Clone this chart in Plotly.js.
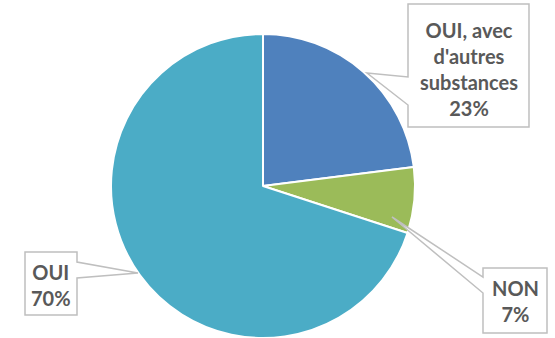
<!DOCTYPE html>
<html>
<head>
<meta charset="utf-8">
<script src="https://cdn.plot.ly/plotly-3.0.1.min.js"></script>
<style>html,body{margin:0;padding:0;background:#fff;}#chart{width:555px;height:338px;}</style>
</head>
<body>
<div id="chart"></div>
<script>
// Data
var categories = ["OUI, avec d'autres substances", "NON", "OUI"];
var values = [23, 7, 70];
var labelTexts = ["OUI, avec<br>d'autres<br>substances<br>23%", "NON<br>7%", "OUI<br>70%"];
var colors = ["#4F81BD", "#9BBB59", "#4BACC6"];

var W = 555, H = 338;
function px(x) { return x / W; }
function py(y) { return 1 - y / H; }

// Callout geometry (pixels): box and pointer
var callouts = [
  {box: [408, 4, 529, 127], side: "left", base: [77, 105], tip: [367, 73], text: [468.5, 69]},
  {box: [483, 268, 547, 333], side: "left", base: [277, 293], tip: [392, 217], text: [515, 301]},
  {box: [25, 252, 77, 315], side: "right", base: [262, 278], tip: [138, 273], text: [51, 285]}
];

function calloutPath(c) {
  var x0 = c.box[0], y0 = c.box[1], x1 = c.box[2], y1 = c.box[3];
  var pts;
  if (c.side === "left") {
    pts = [[x0, y0], [x1, y0], [x1, y1], [x0, y1], [x0, c.base[1]], c.tip, [x0, c.base[0]]];
  } else {
    pts = [[x0, y0], [x1, y0], [x1, c.base[0]], c.tip, [x1, c.base[1]], [x1, y1], [x0, y1]];
  }
  return pts.map(function (p, i) { return (i ? "L" : "M") + px(p[0]).toFixed(5) + "," + py(p[1]).toFixed(5); }).join(" ") + " Z";
}

var shapes = callouts.map(function (c) {
  return {type: "path", xref: "paper", yref: "paper", path: calloutPath(c),
    fillcolor: "#FFFFFF", line: {color: "#BFBFBF", width: 1.5}, layer: "above"};
});

var annotations = callouts.map(function (c, i) {
  return {xref: "paper", yref: "paper", x: px(c.text[0]), y: py(c.text[1]),
    xanchor: "center", yanchor: "middle", showarrow: false, align: "center",
    text: "<b>" + labelTexts[i] + "</b>",
    font: {family: "Lato, 'Open Sans', sans-serif", size: 20, color: "#595959"}};
});

var trace = {
  type: "pie",
  labels: categories,
  values: values,
  sort: false,
  direction: "clockwise",
  rotation: 0,
  textinfo: "none",
  hoverinfo: "label+percent",
  marker: {colors: colors, line: {color: "#FFFFFF", width: 2}},
  domain: {x: [108 / W, 418 / W], y: [0, 304 / H]},
  showlegend: false
};

var layout = {
  width: W, height: H,
  margin: {l: 0, r: 0, t: 0, b: 0},
  paper_bgcolor: "#FFFFFF",
  showlegend: false,
  shapes: shapes,
  annotations: annotations
};

Plotly.newPlot("chart", [trace], layout, {displayModeBar: false, staticPlot: true});
</script>
</body>
</html>
